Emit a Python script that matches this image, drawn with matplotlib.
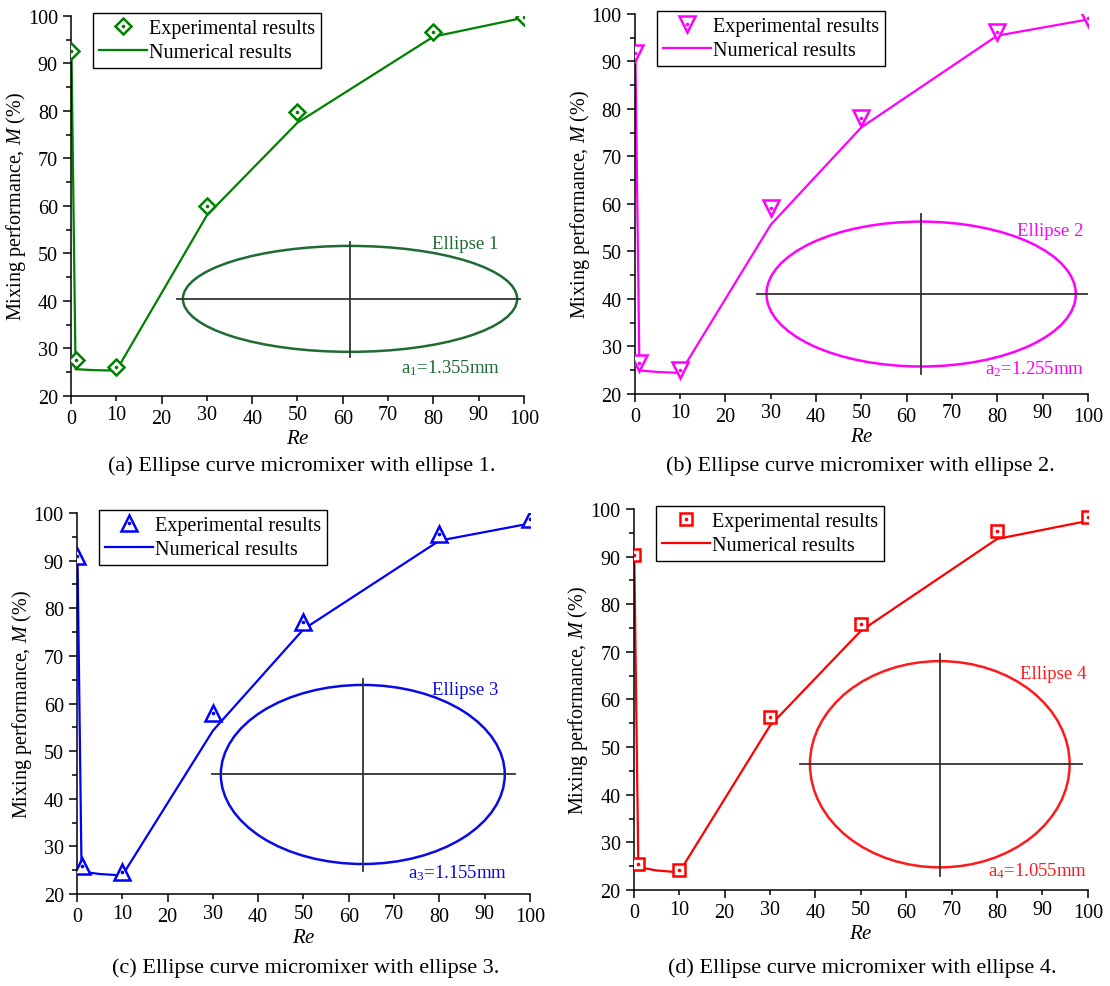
import matplotlib
matplotlib.use('Agg')
import matplotlib.pyplot as plt
from matplotlib.patches import Ellipse
from matplotlib.ticker import MultipleLocator, FormatStrFormatter
from matplotlib.legend_handler import HandlerTuple

plt.rcParams['font.family'] = ['Liberation Serif', 'DejaVu Serif']
plt.rcParams['mathtext.fontset'] = 'custom'
plt.rcParams['mathtext.rm'] = 'Liberation Serif'
plt.rcParams['mathtext.it'] = 'Liberation Serif:italic'

# Reynolds numbers
re_exp = [0.1, 1, 10, 30, 50, 80, 100]
re_num = [0.1, 1, 5, 10, 30, 50, 80, 100]

# mixing performance M (%)
exp_e1 = [92.5, 27.5, 26.0, 60.0, 79.8, 96.5, 99.8]
num_e1 = [92.5, 25.6, 25.4, 25.3, 58.0, 77.5, 95.6, 99.6]
exp_e2 = [91.8, 26.5, 25.0, 59.1, 78.0, 96.1, 99.1]
num_e2 = [91.8, 24.9, 24.6, 24.4, 55.6, 76.1, 95.4, 98.8]
exp_e3 = [91.0, 25.9, 24.6, 58.0, 77.1, 95.6, 98.7]
num_e3 = [91.0, 24.7, 24.2, 23.9, 54.3, 75.6, 94.2, 97.8]
exp_e4 = [90.3, 25.5, 24.1, 56.4, 75.9, 95.3, 98.3]
num_e4 = [90.3, 24.8, 24.1, 23.7, 54.5, 74.4, 93.7, 97.5]

captions = ['(a) Ellipse curve micromixer with ellipse 1.',
            '(b) Ellipse curve micromixer with ellipse 2.',
            '(c) Ellipse curve micromixer with ellipse 3.',
            '(d) Ellipse curve micromixer with ellipse 4.']
ellipse_names = ['Ellipse 1', 'Ellipse 2', 'Ellipse 3', 'Ellipse 4']
semi_axes = [r'a$_1$=1.355mm', r'a$_2$=1.255mm', r'a$_3$=1.155mm', r'a$_4$=1.055mm']

panels = [
    dict(exp=exp_e1, num=num_e1, color='#008000', ecolor='#1e6b34', marker='D', ms=8.5,
         rect=[0.064, 0.598, 0.408, 0.385], cap=(0.272, 0.528),
         ell=(61.6, 40.4, 73.8, 22.3), hl=(23.4, 99.1), vl=(28.2, 52.4),
         name_xy=(87.0, 52.0), a_xy=(83.7, 26.1)),
    dict(exp=exp_e2, num=num_e2, color='#ff00ff', ecolor='#ff00ff', marker='v', ms=11,
         rect=[0.572, 0.600, 0.408, 0.385], cap=(0.775, 0.528),
         ell=(63.2, 41.0, 68.3, 30.5), hl=(26.9, 100.0), vl=(24.2, 57.9),
         name_xy=(91.6, 54.3), a_xy=(88.3, 25.3)),
    dict(exp=exp_e3, num=num_e3, color='#0000ff', ecolor='#0a0ae6', marker='^', ms=11,
         rect=[0.0694, 0.0932, 0.408, 0.386], cap=(0.275, 0.019),
         ell=(63.1, 45.1, 62.7, 37.6), hl=(29.8, 96.7), vl=(24.8, 65.1),
         name_xy=(85.6, 63.0), a_xy=(84.1, 24.6)),
    dict(exp=exp_e4, num=num_e4, color='#ff0000', ecolor='#ff1a1a', marker='s', ms=8,
         rect=[0.571, 0.0973, 0.409, 0.386], cap=(0.777, 0.019),
         ell=(67.4, 46.4, 57.2, 43.3), hl=(36.6, 98.7), vl=(22.9, 69.6),
         name_xy=(92.3, 65.4), a_xy=(89.0, 24.2)),
]

fig = plt.figure(figsize=(11.1, 9.87), dpi=100)

for i, p in enumerate(panels):
    ax = fig.add_axes(p['rect'])
    c = p['color']

    # inset sketch of the ellipse geometry
    cx, cy, w, h = p['ell']
    ax.add_patch(Ellipse((cx, cy), w, h, fill=False, ec=p['ecolor'], lw=1.8, zorder=1))
    ax.plot(p['hl'], [cy, cy], color='#333333', lw=1.3, zorder=1)
    ax.plot([cx, cx], p['vl'], color='#333333', lw=1.3, zorder=1)
    ax.text(*p['name_xy'], ellipse_names[i], color=p['ecolor'], fontsize=13.5,
            ha='center', va='center')
    ax.text(*p['a_xy'], semi_axes[i], color=p['ecolor'], fontsize=13.5,
            ha='center', va='center')

    line, = ax.plot(re_num, p['num'], color=c, lw=1.6, zorder=2)
    mk, = ax.plot(re_exp, p['exp'], ls='none', marker=p['marker'], ms=p['ms'],
                  mfc='white', mec=c, mew=1.8, zorder=3)
    dot, = ax.plot(re_exp, p['exp'], ls='none', marker='o', ms=1.6,
                   color=c, zorder=4)

    ax.set_xlim(0, 100)
    ax.set_ylim(20, 100)
    ax.spines['top'].set_visible(False)
    ax.spines['right'].set_visible(False)
    for s in ('left', 'bottom'):
        ax.spines[s].set_linewidth(1.1)
    ax.xaxis.set_major_locator(MultipleLocator(20))
    ax.xaxis.set_minor_locator(MultipleLocator(10))
    ax.xaxis.set_minor_formatter(FormatStrFormatter('%d'))
    ax.yaxis.set_major_locator(MultipleLocator(10))
    ax.yaxis.set_minor_locator(MultipleLocator(5))
    ax.tick_params(which='major', direction='out', length=6, width=1.1, labelsize=14.5)
    ax.tick_params(which='minor', direction='out', length=3.5, width=1.1, labelsize=14.5)
    ax.tick_params(axis='y', which='minor', labelleft=False)
    ax.set_xlabel('$Re$', fontsize=15, labelpad=1)
    ax.set_ylabel('Mixing performance, $M$ (%)', fontsize=14.5, labelpad=0)

    leg = ax.legend([(mk, dot), line], ['Experimental results', 'Numerical results'],
                    handler_map={tuple: HandlerTuple(ndivide=1)},
                    loc='upper left', bbox_to_anchor=(0.048, 1.008), fontsize=14.5,
                    frameon=True, fancybox=False, edgecolor='black', framealpha=1,
                    handlelength=2.4, handletextpad=0.1, borderpad=0.3,
                    labelspacing=0.25, borderaxespad=0)
    leg.get_frame().set_linewidth(1.0)

    fig.text(*p['cap'], captions[i], fontsize=16, ha='center', va='center')

fig.savefig('out.png', dpi=100)
